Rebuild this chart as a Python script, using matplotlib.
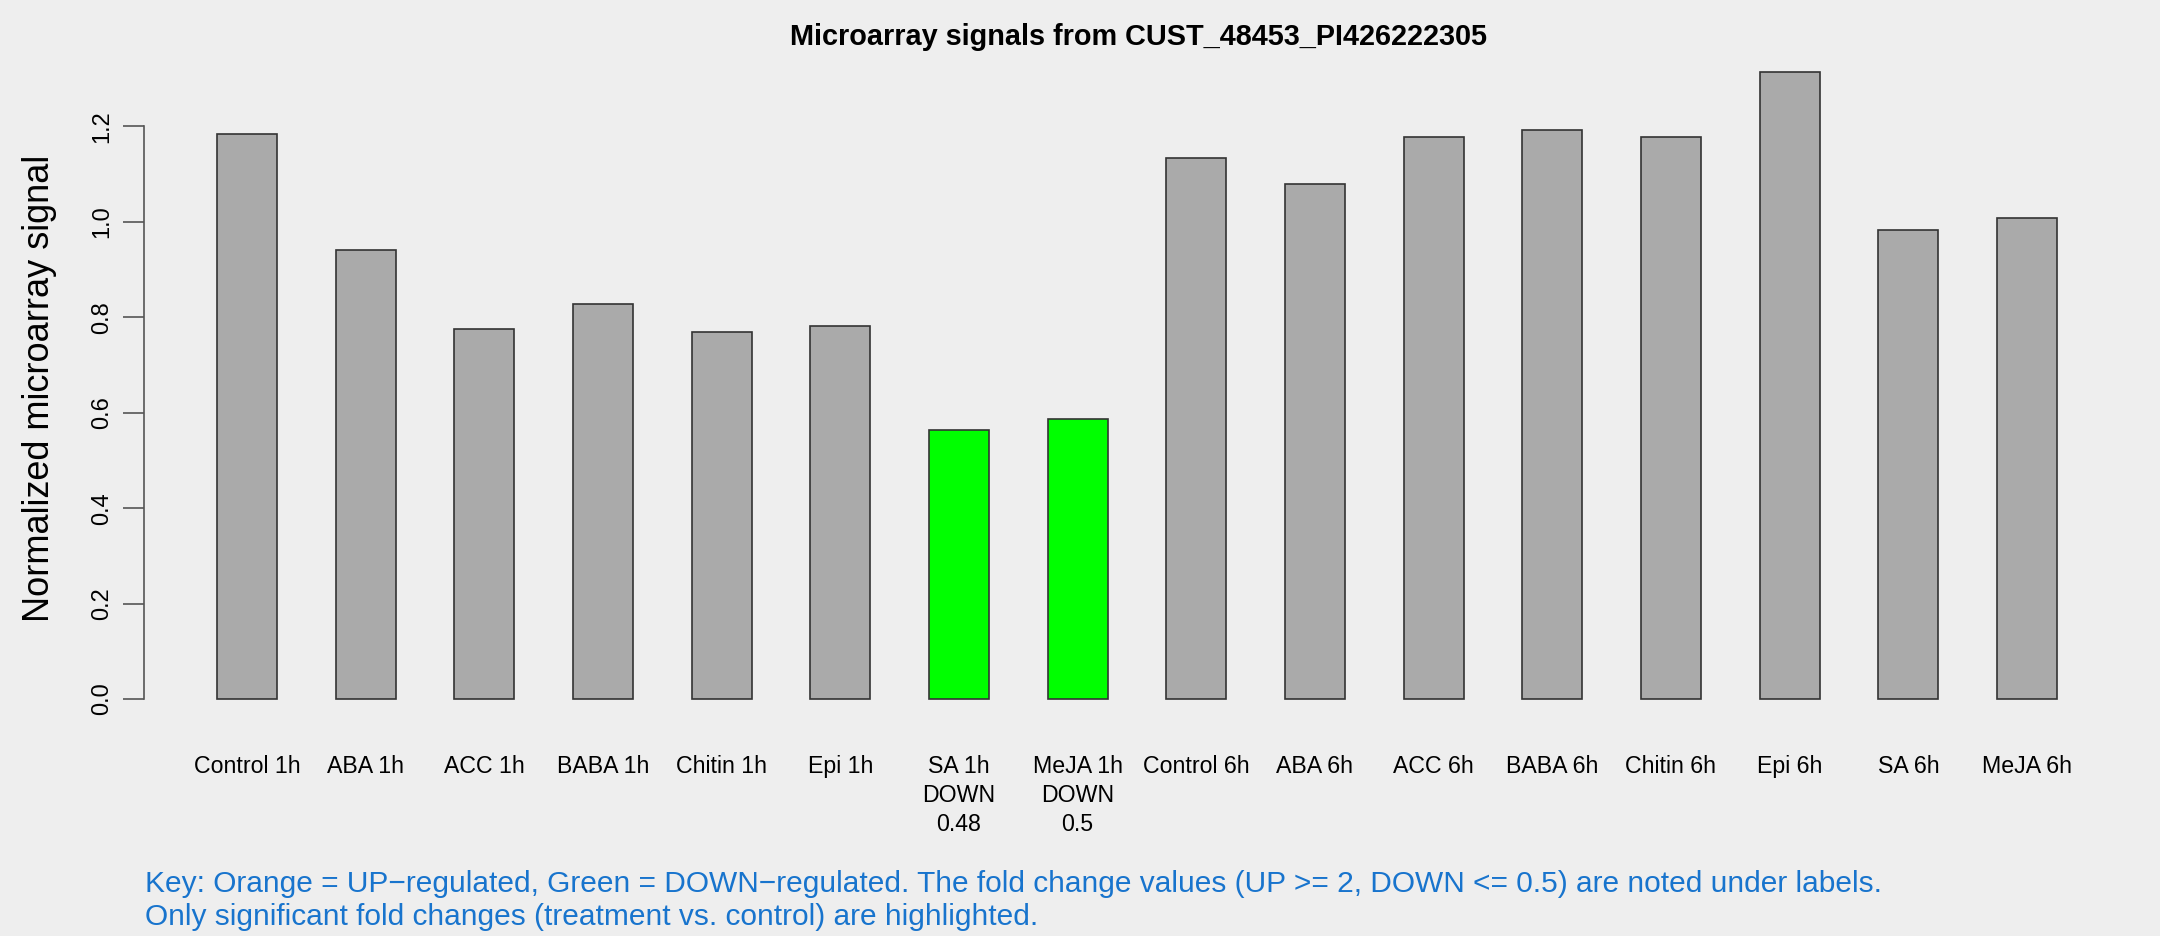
# Bar chart of normalized microarray signals per treatment/time point.
# Significant fold changes are coloured (green = down) and noted under the labels.

import matplotlib
matplotlib.use("Agg")
from matplotlib import pyplot as plt

PLOT_TITLE = "Microarray signals from CUST_48453_PI426222305"
PLOT_Y_LABEL = "Normalized microarray signal"

labels = ["Control 1h", "ABA 1h", "ACC 1h", "BABA 1h", "Chitin 1h", "Epi 1h",
          "SA 1h\nDOWN\n0.48", "MeJA 1h\nDOWN\n0.5",
          "Control 6h", "ABA 6h", "ACC 6h", "BABA 6h", "Chitin 6h", "Epi 6h",
          "SA 6h", "MeJA 6h"]
signal = [1.185, 0.941, 0.775, 0.827, 0.769, 0.781, 0.564, 0.587,
          1.134, 1.080, 1.177, 1.192, 1.177, 1.314, 0.983, 1.009]
regulation = ["", "", "", "", "", "", "DOWN", "DOWN",
              "", "", "", "", "", "", "", ""]
yticks = [0.0, 0.2, 0.4, 0.6, 0.8, 1.0, 1.2]

KEY_TEXT = ("Key: Orange = UP\u2212regulated, Green = DOWN\u2212regulated. "
            "The fold change values (UP >= 2, DOWN <= 0.5) are noted under labels.\n"
            "Only significant fold changes (treatment vs. control) are highlighted.")

colour_map = {"": "#AAAAAA", "DOWN": "#00FF00", "UP": "#FFA500"}

plt.rcParams['font.family'] = ['Liberation Sans', 'DejaVu Sans']

W, H = 2160, 936
fig = plt.figure(figsize=(W / 100, H / 100), dpi=100, facecolor="#EEEEEE")
# plot region in pixels: y=0 sits at 699px, 477 px per unit
ax = fig.add_axes([144 / W, 1 - 724.2 / H, (2130 - 144) / W, (724.2 - 44.3) / H])
ax.set_facecolor("#EEEEEE")

x = list(range(len(signal)))
ax.bar(x, signal, width=0.505, color=[colour_map[r] for r in regulation],
       edgecolor="#333333", linewidth=1.2)

ax.set_xlim(-0.868, 15.868)
ax.set_ylim(-0.0528, 1.372)

for s in ["top", "right", "bottom"]:
    ax.spines[s].set_visible(False)
ax.spines["left"].set_bounds(0, 1.2)
ax.spines["left"].set_color("#555555")
ax.spines["left"].set_linewidth(1.2)

ax.set_yticks(yticks)
ax.set_yticklabels(["%.1f" % v for v in yticks], rotation=90, va="center",
                   fontsize=17)
ax.tick_params(axis="y", length=15, width=1.2, color="#555555", pad=7.5)

ax.set_xticks(x)
ax.set_xticklabels(labels, fontsize=16.7, linespacing=1.35, va="top")
ax.tick_params(axis="x", length=0, pad=22)

fig.text(40 / W, 1 - 388 / H, PLOT_Y_LABEL, rotation=90, fontsize=26,
         ha="center", va="center")
fig.text(1138 / W, 1 - 37 / H, PLOT_TITLE, fontsize=20.8, fontweight="bold",
         ha="center", va="center")
fig.text(145 / W, 1 - 900.5 / H, KEY_TEXT, fontsize=21.5, color="#1874CD",
         ha="left", va="center", linespacing=1.23)

fig.savefig("out.png", dpi=100, facecolor=fig.get_facecolor())
